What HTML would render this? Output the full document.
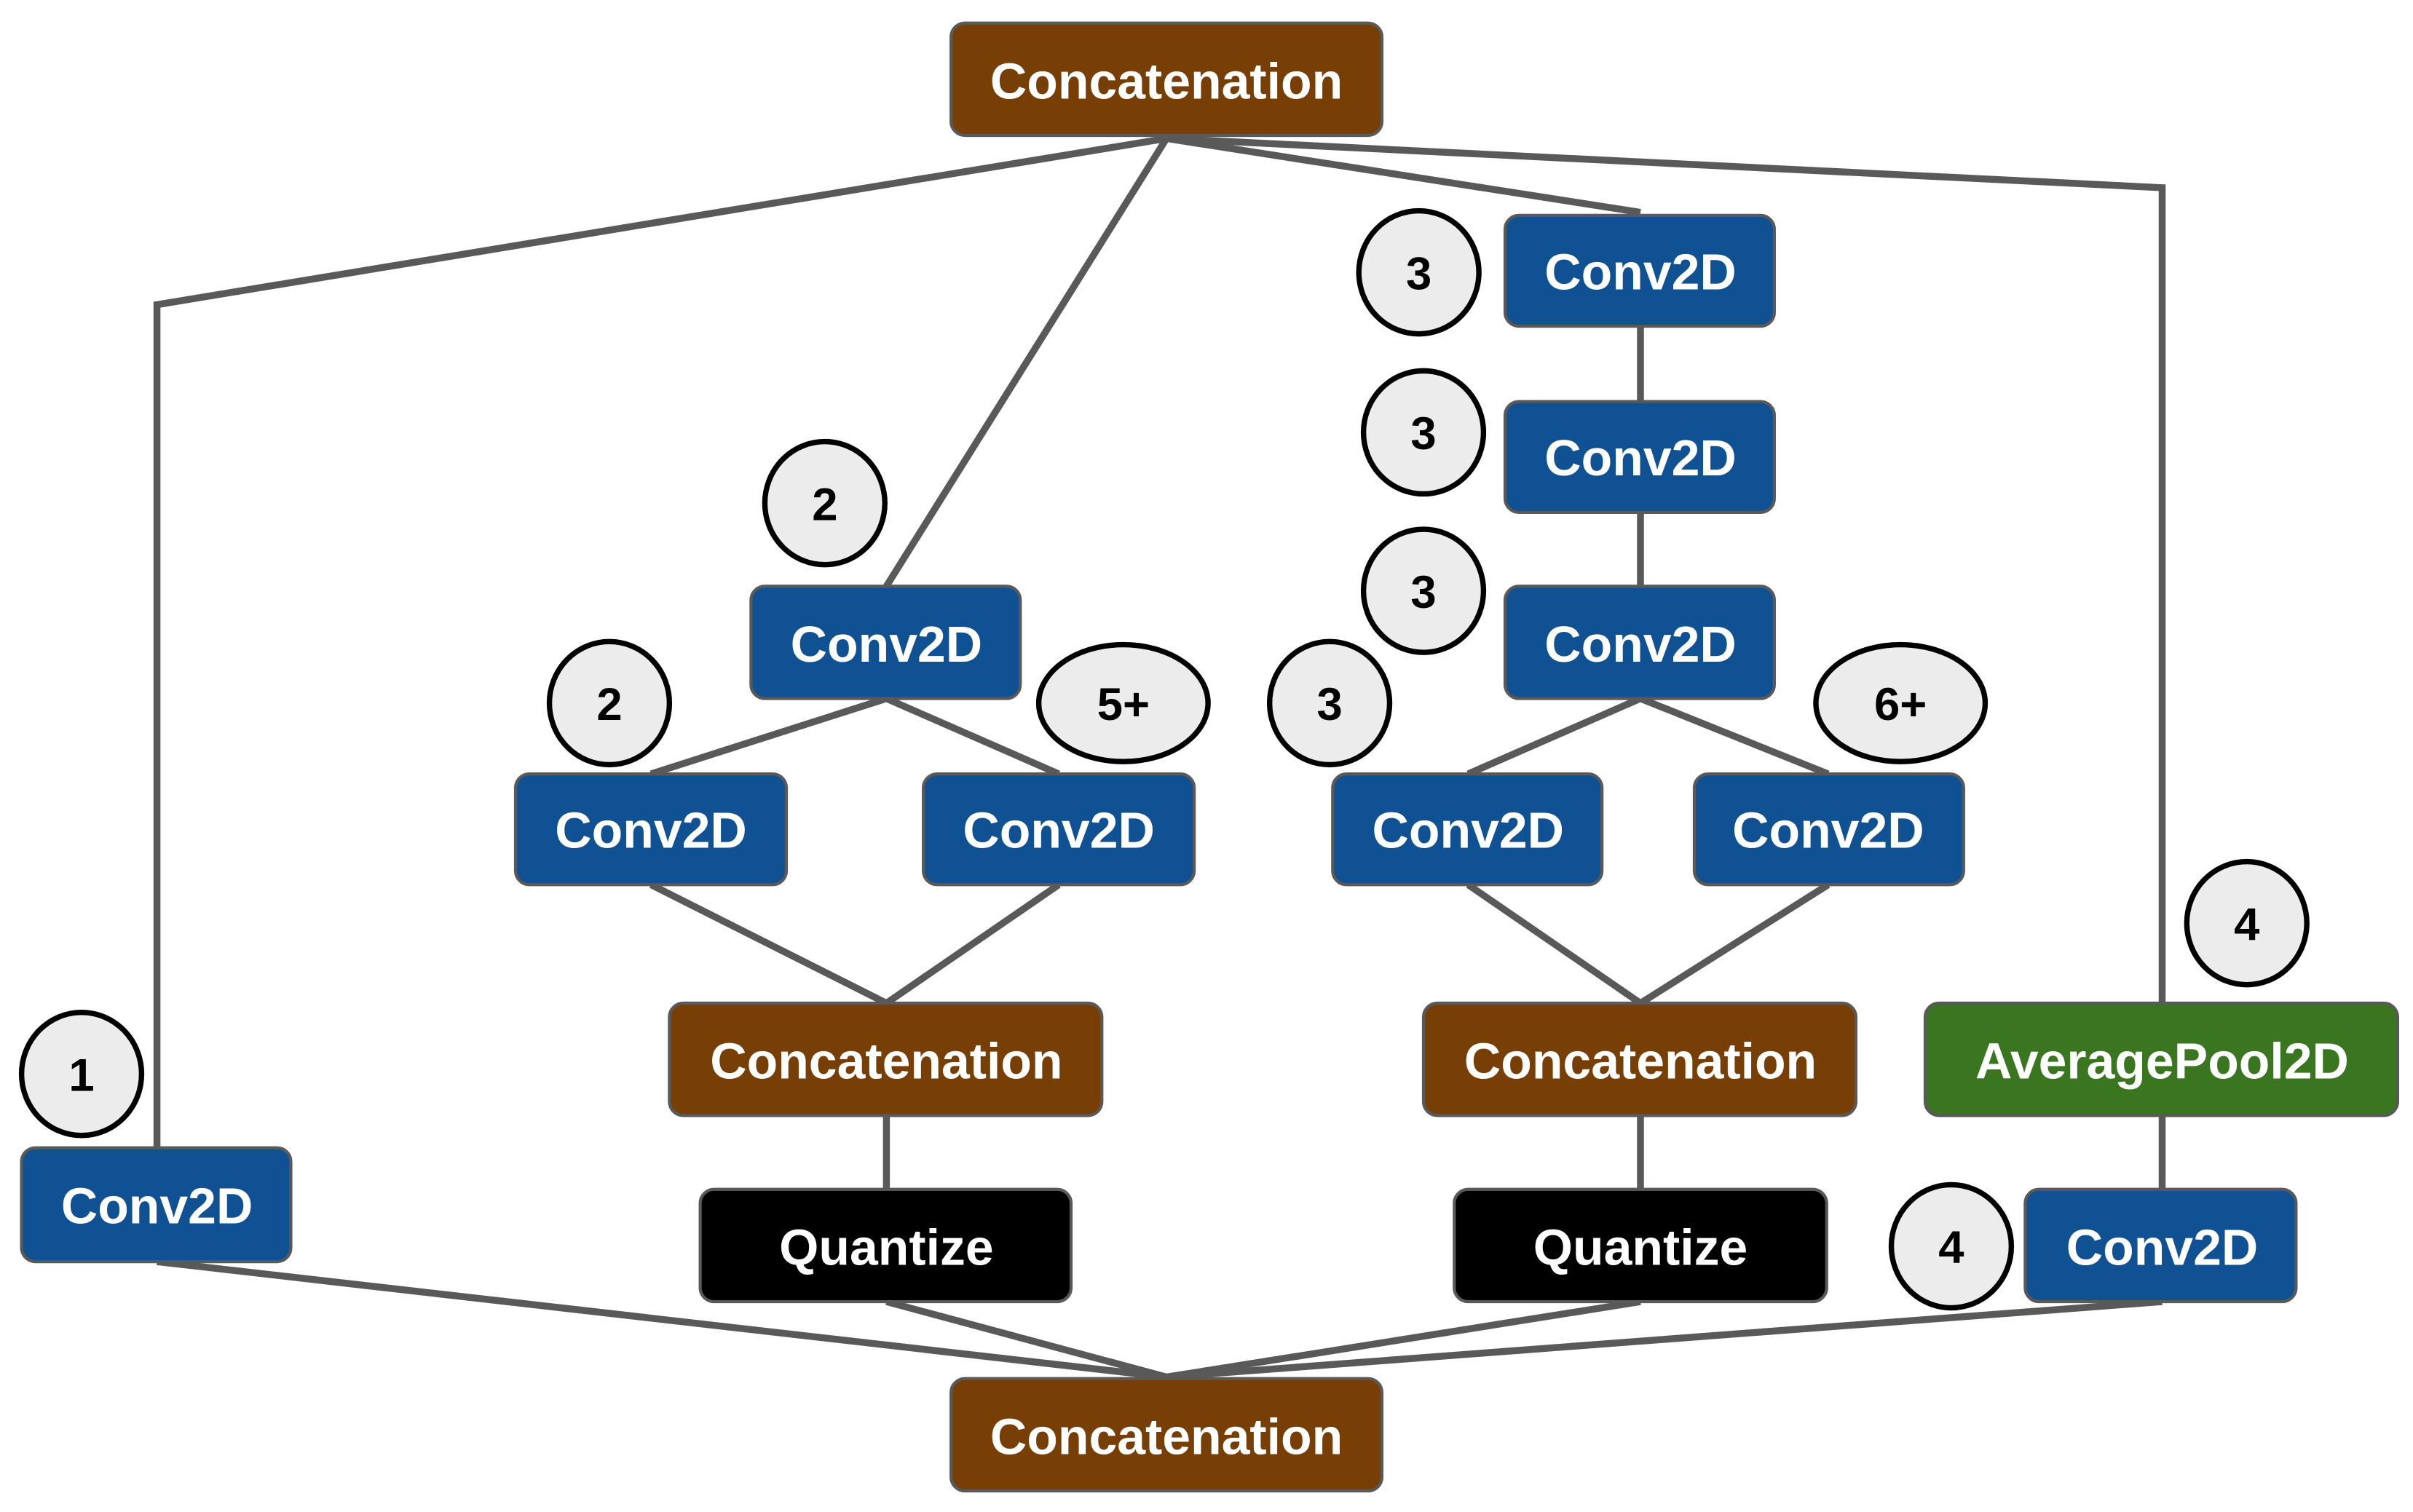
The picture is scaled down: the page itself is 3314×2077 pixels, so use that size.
<!DOCTYPE html>
<html><head><meta charset="utf-8"><style>
html,body{margin:0;padding:0;background:#fff}
svg{display:block}
text{font-family:"Liberation Sans",Arial,sans-serif;font-weight:bold}
</style></head><body>
<svg width="3314" height="2077" viewBox="0 0 1568 982.7" xmlns="http://www.w3.org/2000/svg">
<g stroke="#595959" stroke-width="4.5" fill="none" stroke-linejoin="miter">
<polyline points="758,90 102,198 102,746"/>
<line x1="758" y1="90" x2="576" y2="381"/>
<line x1="758" y1="90" x2="1066" y2="138"/>
<polyline points="758,90 1405,122 1405,652"/>
<line x1="1066" y1="212" x2="1066" y2="261"/>
<line x1="1066" y1="333" x2="1066" y2="381"/>
<polyline points="954,503 1066,454 1188,503"/>
<polyline points="423,503 576,454 688,503"/>
<polyline points="423,575 576,652 688,575"/>
<polyline points="954,575 1066,652 1188,575"/>
<line x1="576" y1="725" x2="576" y2="773"/>
<line x1="1066" y1="725" x2="1066" y2="773"/>
<line x1="1405" y1="725" x2="1405" y2="773"/>
<line x1="102" y1="820" x2="758" y2="895"/>
<line x1="576" y1="846" x2="758" y2="895"/>
<line x1="1066" y1="846" x2="758" y2="895"/>
<line x1="1405" y1="846" x2="758" y2="895"/>
</g>
<g stroke="#595959" stroke-width="2">
<rect x="618" y="15" width="280" height="73" rx="9" fill="#773f06"/>
<rect x="978" y="140" width="175" height="72" rx="9" fill="#0f5192"/>
<rect x="978" y="261" width="175" height="72" rx="9" fill="#0f5192"/>
<rect x="978" y="381" width="175" height="73" rx="9" fill="#0f5192"/>
<rect x="488" y="381" width="175" height="73" rx="9" fill="#0f5192"/>
<rect x="335" y="503" width="176" height="72" rx="9" fill="#0f5192"/>
<rect x="600" y="503" width="176" height="72" rx="9" fill="#0f5192"/>
<rect x="866" y="503" width="175" height="72" rx="9" fill="#0f5192"/>
<rect x="1101" y="503" width="175" height="72" rx="9" fill="#0f5192"/>
<rect x="435" y="652" width="281" height="73" rx="9" fill="#773f06"/>
<rect x="925" y="652" width="281" height="73" rx="9" fill="#773f06"/>
<rect x="1251" y="652" width="307" height="73" rx="9" fill="#3a7520"/>
<rect x="14" y="746" width="175" height="74" rx="9" fill="#0f5192"/>
<rect x="455" y="773" width="241" height="73" rx="9" fill="#000"/>
<rect x="945" y="773" width="242" height="73" rx="9" fill="#000"/>
<rect x="1316" y="773" width="176" height="73" rx="9" fill="#0f5192"/>
<rect x="618" y="896" width="280" height="73" rx="9" fill="#773f06"/>
</g>
<g fill="#fff" font-size="33" text-anchor="middle">
<text x="758" y="64">Concatenation</text>
<text x="1066" y="188">Conv2D</text>
<text x="1066" y="309">Conv2D</text>
<text x="1066" y="430">Conv2D</text>
<text x="576" y="430">Conv2D</text>
<text x="423" y="551">Conv2D</text>
<text x="688" y="551">Conv2D</text>
<text x="954" y="551">Conv2D</text>
<text x="1188" y="551">Conv2D</text>
<text x="576" y="701">Concatenation</text>
<text x="1066" y="701">Concatenation</text>
<text x="1405" y="701">AveragePool2D</text>
<text x="102" y="795">Conv2D</text>
<text x="576" y="822">Quantize</text>
<text x="1066" y="822">Quantize</text>
<text x="1405" y="822">Conv2D</text>
<text x="758" y="945">Concatenation</text>
</g>
<g fill="#ececec" stroke="#000" stroke-width="3.5">
<ellipse cx="922" cy="177" rx="39" ry="40"/>
<ellipse cx="925" cy="281" rx="39" ry="40"/>
<ellipse cx="925" cy="384" rx="39" ry="40"/>
<ellipse cx="864" cy="457" rx="39" ry="40"/>
<ellipse cx="1235" cy="457" rx="55" ry="38"/>
<ellipse cx="536" cy="327" rx="39" ry="40"/>
<ellipse cx="396" cy="457" rx="39" ry="40"/>
<ellipse cx="730" cy="457" rx="55" ry="38"/>
<ellipse cx="53" cy="698" rx="39" ry="40"/>
<ellipse cx="1460" cy="600" rx="39" ry="40"/>
<ellipse cx="1268" cy="810" rx="39" ry="40"/>
</g>
<g fill="#000" font-size="30" text-anchor="middle">
<text x="922" y="188">3</text>
<text x="925" y="292">3</text>
<text x="925" y="395">3</text>
<text x="864" y="468">3</text>
<text x="1235" y="468">6+</text>
<text x="536" y="338">2</text>
<text x="396" y="468">2</text>
<text x="730" y="468">5+</text>
<text x="53" y="709">1</text>
<text x="1460" y="611">4</text>
<text x="1268" y="821">4</text>
</g>
</svg>
</body></html>
